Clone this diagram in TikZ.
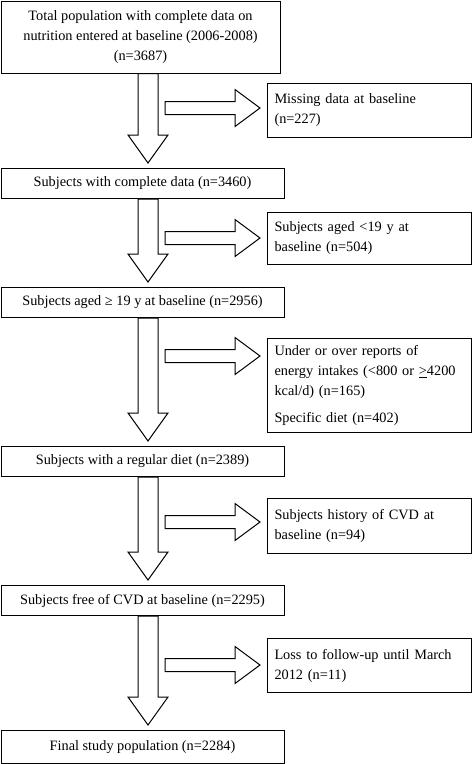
\documentclass[tikz,border=0pt]{standalone}
\usepackage{fontspec}
\setmainfont{Liberation Serif}
\usetikzlibrary{calc,positioning}

\begin{document}
\begin{tikzpicture}[x=1pt,y=-1pt,
  mainbox/.style={draw=black,line width=1pt,fill=white,anchor=north west,
                  minimum width=283pt,minimum height=30pt,inner sep=3pt,
                  align=center,font=\fontsize{14.3}{20}\selectfont},
  sidebox/.style={draw=black,line width=1pt,fill=white,anchor=north west,
                  text width=190pt,inner xsep=7pt,inner ysep=3pt,
                  align=left,font=\fontsize{14.3}{20}\selectfont},
  blockarrow/.style={draw=black,line width=1pt,fill=white,line join=miter}
]
\useasboundingbox (0,0) rectangle (473,764);
\coordinate (spine) at (148,0);

\node[mainbox,minimum width=279pt,minimum height=72pt] (b1) at (0.5,0.5)
  {Total population with complete data on\\nutrition entered at baseline (2006-2008)\\(n=3687)};
\node[mainbox] (b2) at (0.5,168) {Subjects with complete data (n=3460)};
\node[mainbox] (b3) at (0.5,287) {Subjects aged ≥ 19 y at baseline (n=2956)};
\node[mainbox] (b4) at (0.5,446) {Subjects with a regular diet (n=2389)};
\node[mainbox] (b5) at (0.5,585) {Subjects free of CVD at baseline (n=2295)};
\node[mainbox,minimum height=33pt] (b6) at (0.5,730) {Final study population (n=2284)};

\node[sidebox,minimum height=54pt] (s1) at (267,83) {Missing data at baseline\\(n=227)};
\node[sidebox,minimum height=52pt] (s2) at (267,212) {Subjects aged <19 y at\\baseline (n=504)};
\node[sidebox,minimum height=94pt] (s3) at (267,338)
  {Under or over reports of\\energy intakes (<800 or \underline{>}4200\\kcal/d) (n=165)\\[7pt]Specific diet (n=402)};
\node[sidebox,minimum height=55pt] (s4) at (267,498) {Subjects history of CVD at\\baseline (n=94)};
\node[sidebox,minimum height=54pt] (s5) at (267,638) {Loss to follow-up until March\\2012 (n=11)};

\foreach \a/\b in {b1/b2,b2/b3,b3/b4,b4/b5,b5/b6}{
  \draw[blockarrow] ($(\a.south -| spine)+(-10,0)$) -- ($(\b.north -| spine)+(-10,-33)$)
    -- ++(-10,0) -- ($(\b.north -| spine)+(0,-5)$) -- ($(\b.north -| spine)+(20,-33)$)
    -- ++(-10,0) -- ($(\a.south -| spine)+(10,0)$) -- cycle;
}
\foreach \s/\off in {s1/25,s2/26,s3/18,s4/24,s5/27}{
  \coordinate (tip) at ($(\s.north west)+(-7,\off)$);
  \coordinate (tail) at ($(tip -| spine)+(17,0)$);
  \draw[blockarrow] ($(tail)+(0,-6.5)$) -- ($(tip)+(-25,-6.5)$) -- ($(tip)+(-25,-18.5)$)
    -- (tip) -- ($(tip)+(-25,18.5)$) -- ($(tip)+(-25,6.5)$) -- ($(tail)+(0,6.5)$) -- cycle;
}
\end{tikzpicture}
\end{document}
